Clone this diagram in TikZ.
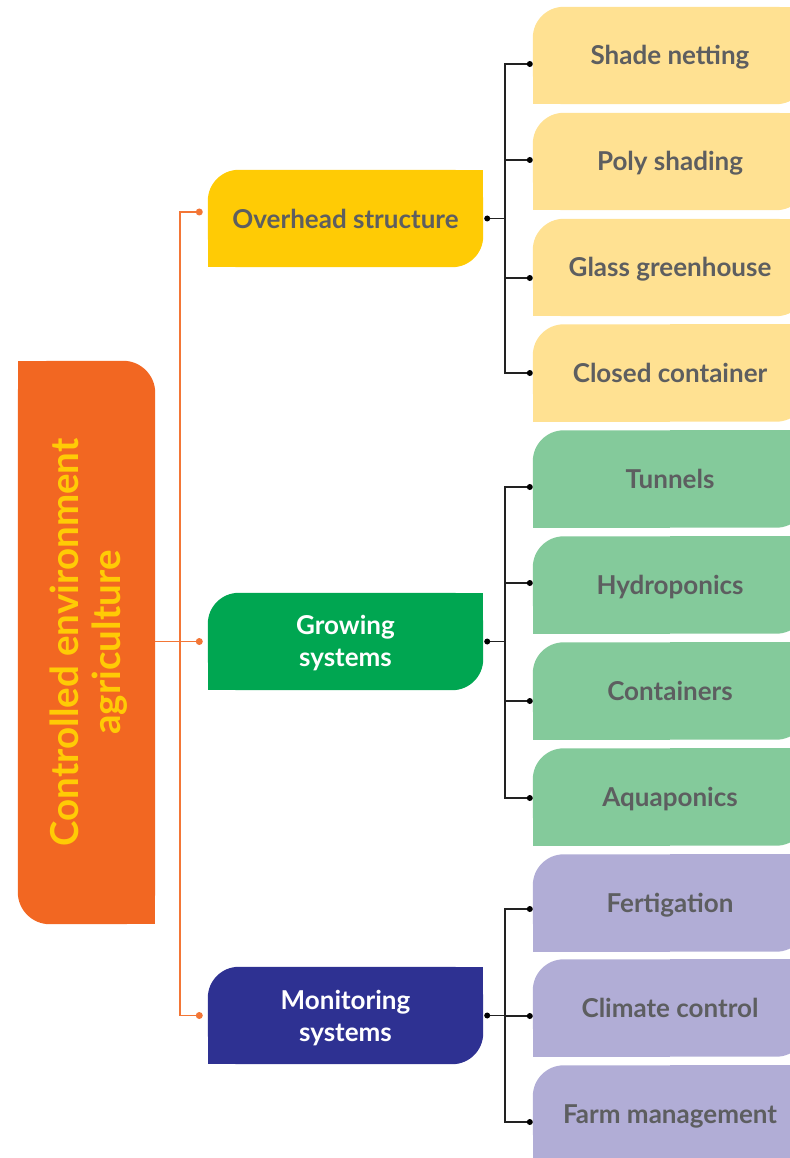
\documentclass[tikz,border=0pt]{standalone}
\usepackage{fontspec}
\setmainfont{Lato}
\usepackage{graphicx}
\usetikzlibrary{backgrounds}
\definecolor{rootorange}{HTML}{F26722}
\definecolor{lineorange}{HTML}{F37636}
\definecolor{rootyellow}{HTML}{FFCB05}
\definecolor{catyellow}{HTML}{FFCB05}
\definecolor{catgreen}{HTML}{00A651}
\definecolor{catnavy}{HTML}{2E3192}
\definecolor{leafyellow}{HTML}{FFE192}
\definecolor{leafgreen}{HTML}{84CA9B}
\definecolor{leafpurple}{HTML}{B1ADD6}
\definecolor{txtgray}{HTML}{5D5E60}
\definecolor{linegray}{HTML}{222222}
\newcommand\tlbrfill[2]{%
  \fill[#2, rounded corners=31pt] (#1.south west) rectangle (#1.north east);
  \fill[#2] (#1.north) rectangle (#1.east);
  \fill[#2] (#1.west) rectangle (#1.south);}
\newcommand\twolines[3]{\raisebox{#1}[\height][\depth]{\begin{tabular}{@{}c@{}}#2\\#3\end{tabular}}}
\begin{document}
\begin{tikzpicture}[x=1pt,y=-1pt,
  rootbox/.style={minimum width=137pt, minimum height=563pt, inner sep=0pt,
    text=rootyellow, font=\bfseries\fontsize{38.5}{42}\selectfont},
  catbox/.style={minimum width=275pt, minimum height=97pt, inner sep=0pt,
    align=center, font=\bfseries\fontsize{26}{32}\selectfont},
  leafbox/.style={minimum width=274pt, minimum height=97pt, inner sep=0pt,
    text height=18pt, text depth=0pt,
    text=txtgray, font=\bfseries\fontsize{26}{30}\selectfont},
  blk/.style={draw=linegray, line width=1.5pt},
  org/.style={draw=lineorange, line width=1.6pt},
  bdot/.style={fill=black},
  odot/.style={fill=lineorange}]
\useasboundingbox (0,0) rectangle (789,1158);
\clip (0,0) rectangle (789,1158);

% root
\node[rootbox] (root) at (86.5,642.5)
  {\rotatebox{90}{\twolines{-5pt}{Controlled environment}{agriculture}}};

% categories
\node[catbox, text=txtgray] (over) at (345.5,218.5) {Overhead structure};
\node[catbox, text=white] (grow) at (345.5,641.5) {\twolines{-3pt}{Growing}{systems}};
\node[catbox, text=white] (mon) at (345.5,1015.5) {\twolines{-4pt}{Monitoring}{systems}};

% leaves
\node[leafbox] (sh) at (670,55.5) {Shade netting};
\node[leafbox] (po) at (670,161.5) {Poly shading};
\node[leafbox] (gl) at (670,267.5) {Glass greenhouse};
\node[leafbox] (cl) at (670,373) {Closed container};
\node[leafbox] (tu) at (670,479) {Tunnels};
\node[leafbox] (hy) at (670,585) {Hydroponics};
\node[leafbox] (co) at (670,691) {Containers};
\node[leafbox] (aq) at (670,797) {Aquaponics};
\node[leafbox] (fe) at (670,903) {Fertigation};
\node[leafbox] (cc) at (670,1008) {Climate control};
\node[leafbox] (fa) at (670,1114) {Farm management};

\begin{scope}[on background layer]
  \fill[rootorange, rounded corners=32pt] (root.south west) rectangle (root.north east);
  \fill[rootorange] (root.north west) rectangle (root.center);
  \fill[rootorange] (root.center) rectangle (root.south east);
  \tlbrfill{over}{catyellow}
  \tlbrfill{grow}{catgreen}
  \tlbrfill{mon}{catnavy}
  \tlbrfill{sh}{leafyellow}
  \tlbrfill{po}{leafyellow}
  \tlbrfill{gl}{leafyellow}
  \tlbrfill{cl}{leafyellow}
  \tlbrfill{tu}{leafgreen}
  \tlbrfill{hy}{leafgreen}
  \tlbrfill{co}{leafgreen}
  \tlbrfill{aq}{leafgreen}
  \tlbrfill{fe}{leafpurple}
  \tlbrfill{cc}{leafpurple}
  \tlbrfill{fa}{leafpurple}
\end{scope}

% orange connectors
\coordinate (ov-o) at ([xshift=-8.5pt,yshift=6.5pt]over.west);
\coordinate (gr-o) at ([xshift=-8.5pt]grow.west);
\coordinate (mo-o) at ([xshift=-8.5pt]mon.west);
\draw[org] (root.east |- gr-o) -- (gr-o);
\draw[org] (ov-o) -- ++(-19.5,0) |- (mo-o);
\foreach \d in {ov-o,gr-o,mo-o} \fill[odot] (\d) circle (3.5pt);

% black connectors
\coordinate (ov-d) at ([xshift=4pt]over.east);
\coordinate (gr-d) at ([xshift=4pt]grow.east);
\coordinate (mo-d) at ([xshift=4pt]mon.east);
\coordinate (sh-d) at ([xshift=-3pt,yshift=-8.5pt]sh.west);
\coordinate (po-d) at ([xshift=-3pt,yshift=1.5pt]po.west);
\coordinate (gl-d) at ([xshift=-3pt,yshift=-10.5pt]gl.west);
\coordinate (cl-d) at ([xshift=-3pt]cl.west);
\coordinate (tu-d) at ([xshift=-3pt,yshift=-8pt]tu.west);
\coordinate (hy-d) at ([xshift=-3pt,yshift=2pt]hy.west);
\coordinate (co-d) at ([xshift=-3pt,yshift=-10pt]co.west);
\coordinate (aq-d) at ([xshift=-3pt,yshift=-1pt]aq.west);
\coordinate (fe-d) at ([xshift=-3pt,yshift=-6pt]fe.west);
\coordinate (cc-d) at ([xshift=-3pt,yshift=-8pt]cc.west);
\coordinate (fa-d) at ([xshift=-3pt,yshift=-8pt]fa.west);

\draw[blk] (ov-d) -- ++(18,0) coordinate (ov-t);
\draw[blk] (gr-d) -- ++(18,0) coordinate (gr-t);
\draw[blk] (mo-d) -- ++(18,0) coordinate (mo-t);
\foreach \l in {sh,po,gl,cl} \draw[blk] (ov-t) |- (\l-d);
\foreach \l in {tu,hy,co,aq} \draw[blk] (gr-t) |- (\l-d);
\foreach \l in {fe,cc,fa} \draw[blk] (mo-t) |- (\l-d);
\foreach \d in {ov-d,gr-d,mo-d,sh-d,po-d,gl-d,cl-d,tu-d,hy-d,co-d,aq-d,fe-d,cc-d,fa-d}
  \fill[bdot] (\d) circle (3pt);
\end{tikzpicture}
\end{document}
